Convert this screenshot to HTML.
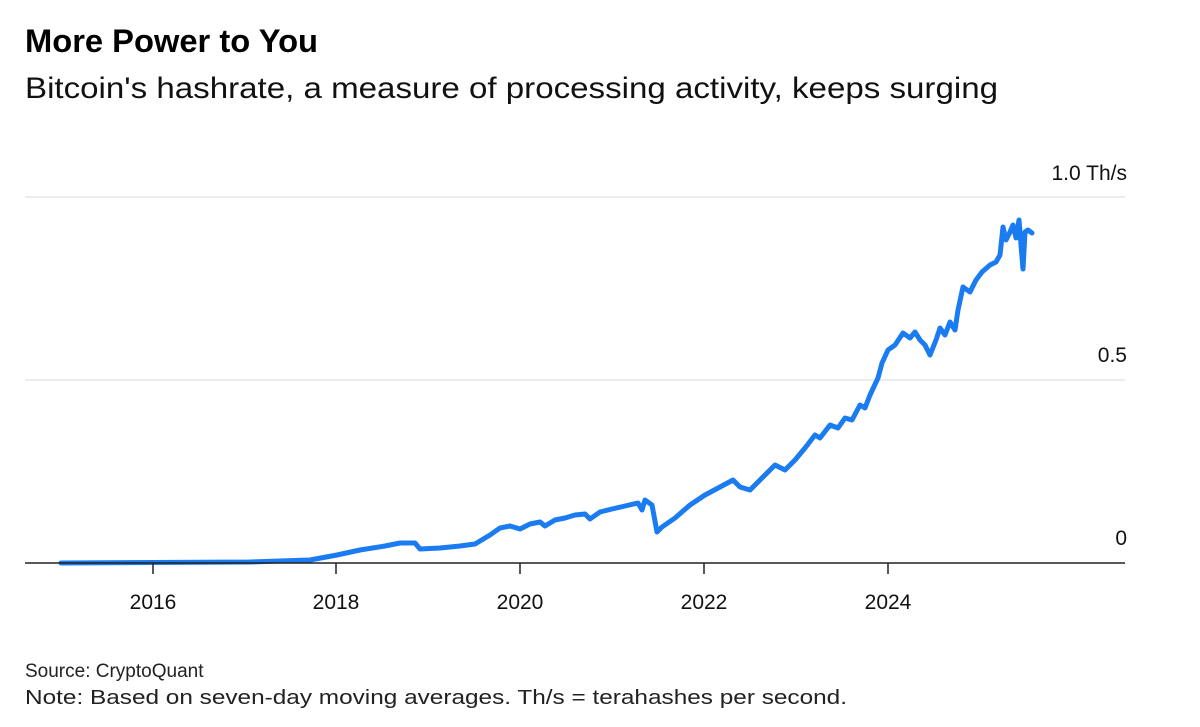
<!DOCTYPE html>
<html><head><meta charset="utf-8"><style>
html,body{margin:0;padding:0;background:#fff;}
svg{display:block;font-family:"Liberation Sans",Arial,sans-serif;}
</style></head><body>
<svg width="1200" height="727" viewBox="0 0 1200 727" xmlns="http://www.w3.org/2000/svg">
<text x="25" y="52" font-size="32" font-weight="bold" fill="#000" textLength="293" lengthAdjust="spacingAndGlyphs">More Power to You</text>
<text x="25" y="98" font-size="30" fill="#111" textLength="973" lengthAdjust="spacingAndGlyphs">Bitcoin's hashrate, a measure of processing activity, keeps surging</text>
<line x1="25" y1="197" x2="1125" y2="197" stroke="#e6e6e6" stroke-width="1.5"/>
<line x1="25" y1="380" x2="1125" y2="380" stroke="#e6e6e6" stroke-width="1.5"/>
<text x="1127" y="180" font-size="21" fill="#111" text-anchor="end">1.0 Th/s</text>
<text x="1127" y="362" font-size="21" fill="#111" text-anchor="end">0.5</text>
<text x="1127" y="545" font-size="21" fill="#111" text-anchor="end">0</text>
<polyline fill="none" stroke="#1a7cf0" stroke-width="5" stroke-linejoin="round" stroke-linecap="round" points="61,563 250,562 310,560 337,555 360,550 385,546 400,543 415,543 420,549 440,548 460,546 475,544 490,535 500,528 510,526 520,529 530,524 540,522 545,526 555,520 565,518 575,515 585,514 590,519 600,512 612,509 625,506 638,503 642,510 645,500 652,505 657,532 662,527 675,518 690,505 705,495 720,487 733,480 740,487 750,490 760,480 775,465 785,470 795,460 805,448 815,435 820,438 830,425 838,428 845,418 852,420 860,405 865,408 870,395 878,378 882,363 888,350 895,345 903,333 910,338 915,332 920,340 925,345 930,355 936,340 940,328 945,335 950,322 955,330 958,310 963,287 970,292 976,280 982,272 990,265 996,262 1000,255 1003,227 1006,240 1010,232 1013,225 1016,238 1019,220 1021,245 1023,269 1025,232 1028,230 1032,233"/>
<line x1="25" y1="563" x2="1125" y2="563" stroke="#222" stroke-width="1.5"/>
<g stroke="#222" stroke-width="1.5">
<line x1="153" y1="563" x2="153" y2="574"/><line x1="336" y1="563" x2="336" y2="574"/><line x1="520" y1="563" x2="520" y2="574"/><line x1="704" y1="563" x2="704" y2="574"/><line x1="888" y1="563" x2="888" y2="574"/>
</g>
<g font-size="21" fill="#111" text-anchor="middle">
<text x="153" y="609">2016</text><text x="336" y="609">2018</text><text x="520" y="609">2020</text><text x="704" y="609">2022</text><text x="888" y="609">2024</text>
</g>
<text x="25" y="677" font-size="19" fill="#222">Source: CryptoQuant</text>
<text x="25" y="704" font-size="20.5" fill="#222" textLength="822" lengthAdjust="spacingAndGlyphs">Note: Based on seven-day moving averages. Th/s = terahashes per second.</text>
</svg>
</body></html>
